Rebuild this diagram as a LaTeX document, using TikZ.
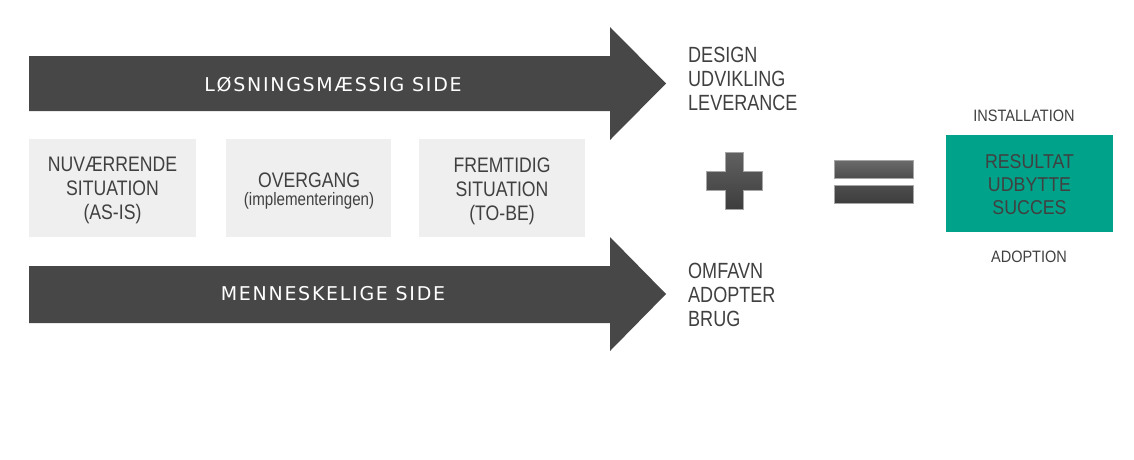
\documentclass[tikz,border=0pt]{standalone}
\usepackage{fontspec}
\setmainfont{Liberation Sans}
\newfontfamily\arrowfont[LetterSpace=9]{DejaVu Sans}
\newfontfamily\boxfont[FakeStretch=0.84]{Liberation Sans}
\newfontfamily\sidefont[FakeStretch=0.82]{Liberation Sans}
\newfontfamily\resfont[FakeStretch=0.89]{Liberation Sans}
\newfontfamily\smallfont[FakeStretch=0.88]{Liberation Sans}
\definecolor{arrowgray}{HTML}{474747}
\definecolor{boxgray}{HTML}{EFEFEF}
\definecolor{txtgray}{HTML}{404040}
\definecolor{teal}{HTML}{00A38A}
\tikzset{
  bigarrow/.style={fill=arrowgray, draw=none},
  arrowlabel/.style={anchor=base, inner sep=0pt, text=white, font=\arrowfont\fontsize{19}{22}\selectfont},
  graybox/.style={fill=boxgray, draw=none, minimum width=167pt, minimum height=98pt, inner sep=0pt},
  boxtext/.style={anchor=north, inner sep=0pt, align=center, text=txtgray, font=\boxfont\fontsize{21}{24}\selectfont},
  sidetext/.style={anchor=north west, inner sep=0pt, align=left, text=txtgray, font=\sidefont\fontsize{22}{24}\selectfont},
  smalltext/.style={anchor=base, inner sep=0pt, text=txtgray, font=\smallfont\fontsize{16.5}{18}\selectfont},
  signbar/.style={draw=black!35, line width=0.6pt},
}
\begin{document}
\begin{tikzpicture}[x=1pt,y=-1pt]
\useasboundingbox (0,0) rectangle (1134,459);
% top arrow
\draw[bigarrow] (29,56) -- (610,56) -- (610,27) -- (666,83.5) -- (610,140) -- (610,111) -- (29,111) -- cycle;
\node[arrowlabel] (toplabel) at (333,91) {LØSNINGSMÆSSIG SIDE};
% bottom arrow
\draw[bigarrow] (29,266) -- (610,266) -- (610,237) -- (666,294) -- (610,351) -- (610,323) -- (29,323) -- cycle;
\node[arrowlabel] (botlabel) at (333,300) {MENNESKELIGE SIDE};
% gray boxes
\node[graybox] (asisbox) at (112.5,188) {};
\node[graybox, minimum width=165pt] (overbox) at (308.5,188) {};
\node[graybox, minimum width=166pt] (tobebox) at (502,188) {};
\node[boxtext] (asis) at (112.5,157.3) {NUVÆRRENDE\\SITUATION\\(AS-IS)};
\node[boxtext] (overgang) at (309,172.3) {OVERGANG};
\node[anchor=base, inner sep=0pt, text=txtgray, font=\boxfont\fontsize{18}{20}\selectfont] (impl) at (309,205.5) {(implementeringen)};
\node[boxtext] (tobe) at (502,157.3) {FREMTIDIG\\SITUATION\\(TO-BE)};
% side texts
\node[sidetext] (design) at (688,47.3) {DESIGN\\UDVIKLING\\LEVERANCE};
\node[sidetext] (omfavn) at (688,262.8) {OMFAVN\\ADOPTER\\BRUG};
% plus sign
\shade[signbar, top color=black!62, bottom color=black!76]
  (725,152.3) -- (743.3,152.3) -- (743.3,171.7) -- (762.3,171.7) -- (762.3,190) -- (743.3,190)
  -- (743.3,209.3) -- (725,209.3) -- (725,190) -- (706.7,190) -- (706.7,171.7) -- (725,171.7) -- cycle;
% equals sign
\shade[signbar, top color=black!58, bottom color=black!70] (834,160) rectangle (913.3,178.3);
\shade[signbar, top color=black!70, bottom color=black!76] (834,185.7) rectangle (913.3,203.3);
% result box
\node[fill=teal, minimum width=167pt, minimum height=97pt, inner sep=0pt] (resbox) at (1029.5,183.5) {};
\node[anchor=north, inner sep=0pt, align=center, text=txtgray, font=\resfont\fontsize{20}{23.3}\selectfont] (result) at (1029.5,154) {RESULTAT\\UDBYTTE\\SUCCES};
\node[smalltext] (install) at (1024,121) {INSTALLATION};
\node[smalltext] (adopt) at (1029,262.5) {ADOPTION};
\end{tikzpicture}
\end{document}
